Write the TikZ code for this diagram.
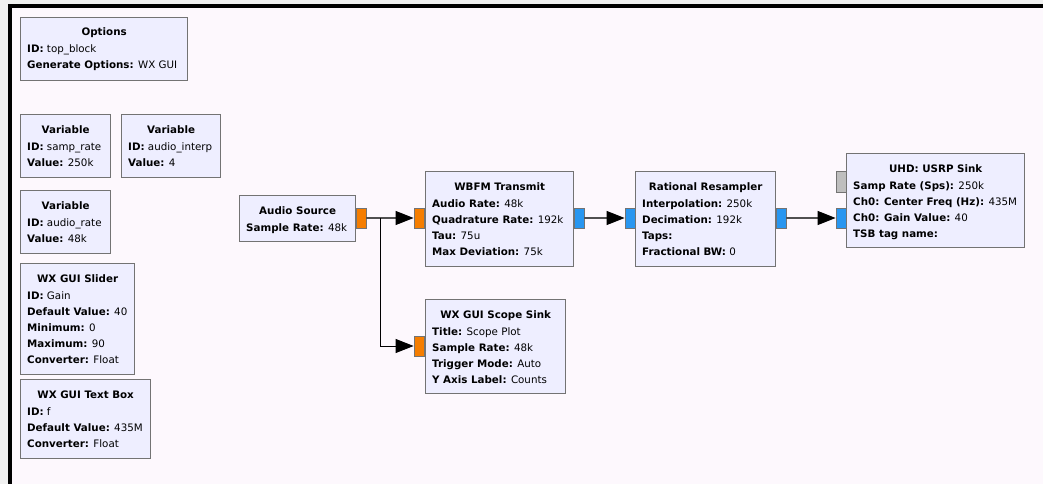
\documentclass[tikz,border=0pt]{standalone}
\usepackage{fontspec}
\setmainfont{DejaVu Sans}
\usetikzlibrary{arrows.meta,calc}
\definecolor{canvas}{RGB}{253,248,253}
\definecolor{framegray}{RGB}{240,240,240}
\definecolor{blockfill}{RGB}{238,238,255}
\definecolor{blockedge}{RGB}{115,115,115}
\definecolor{portorange}{RGB}{245,125,0}
\definecolor{portblue}{RGB}{40,150,240}
\definecolor{portgray}{RGB}{190,190,190}
\definecolor{wiregray}{RGB}{80,80,80}
\tikzset{
  block/.style={
    rectangle,
    draw=blockedge,
    fill=blockfill,
    line width=1.3pt,
    inner sep=0pt,
    anchor=north west
  },
  title/.style={
    anchor=base,
    inner sep=0pt,
    font=\fontsize{10.3pt}{16pt}\selectfont\bfseries
  },
  params/.style={
    anchor=base west,
    inner sep=0pt,
    font=\fontsize{10.3pt}{16pt}\selectfont
  },
  port/.style={
    rectangle,
    draw=blockedge,
    line width=0.8pt,
    minimum width=10pt,
    minimum height=20pt,
    inner sep=0pt
  },
  port-orange/.style={port, fill=portorange},
  port-blue/.style={port, fill=portblue},
  port-gray/.style={port, fill=portgray},
  wire/.style={
    draw=wiregray,
    line width=1.1pt,
    -{Triangle[length=18pt,width=14pt,fill=black,color=black]}
  }
}
% block: name, x, y, width, height, title, parameter lines
\newcommand{\gblock}[7]{%
  \node[block, minimum width=#4pt, minimum height=#5pt] (#1) at (#2,#3) {};
  \node[title] (#1-title) at ($(#1.north)+(0,19)$) {#6};
  \foreach \ln [count=\i] in {#7} {
    \node[params] (#1-p\i) at ($(#1.north west)+(7,20+16*\i)$) {\ln};
  }
}
\newcommand{\kv}[2]{\textbf{#1:} #2}

\begin{document}
\begin{tikzpicture}[x=1pt,y=-1pt]
  \useasboundingbox (0,0) rectangle (1043,484);
  % canvas and frame
  \fill[framegray] (0,0) rectangle (1043,484);
  \fill[canvas] (12,8) rectangle (1043,484);
  \fill[black] (8,4) rectangle (1043,8);
  \fill[black] (8,4) rectangle (12,484);

  % variables and options
  \gblock{options}{20}{17}{167}{63}{Options}
    {\kv{ID}{top\_block}, \kv{Generate Options}{WX GUI}}
  \gblock{samprate}{20}{114}{90}{63}{Variable}
    {\kv{ID}{samp\_rate}, \kv{Value}{250k}}
  \gblock{audiointerp}{121}{114}{99}{63}{Variable}
    {\kv{ID}{audio\_interp}, \kv{Value}{4}}
  \gblock{audiorate}{20}{190}{90}{63}{Variable}
    {\kv{ID}{audio\_rate}, \kv{Value}{48k}}
  \gblock{slider}{20}{263}{114}{111}{WX GUI Slider}
    {\kv{ID}{Gain}, \kv{Default Value}{40}, \kv{Minimum}{0},
     \kv{Maximum}{90}, \kv{Converter}{Float}}
  \gblock{textbox}{20}{379}{130}{79}{WX GUI Text Box}
    {\kv{ID}{f}, \kv{Default Value}{435M}, \kv{Converter}{Float}}

  % signal chain
  \gblock{asrc}{239}{195}{116}{46}{Audio Source}
    {\kv{Sample Rate}{48k}}
  \gblock{wbfm}{425}{171}{148}{95}{WBFM Transmit}
    {\kv{Audio Rate}{48k}, \kv{Quadrature Rate}{192k},
     \kv{Tau}{75u}, \kv{Max Deviation}{75k}}
  \gblock{resamp}{635}{171}{140}{95}{Rational Resampler}
    {\kv{Interpolation}{250k}, \kv{Decimation}{192k},
     \textbf{Taps:}, \kv{Fractional BW}{0}}
  \gblock{usrp}{846}{153}{178}{94}{UHD: USRP Sink}
    {\kv{Samp Rate (Sps)}{250k}, \kv{Ch0: Center Freq (Hz)}{435M},
     \kv{Ch0: Gain Value}{40}, \textbf{TSB tag name:}}
  \gblock{scope}{425}{299}{140}{94}{WX GUI Scope Sink}
    {\kv{Title}{Scope Plot}, \kv{Sample Rate}{48k},
     \kv{Trigger Mode}{Auto}, \kv{Y Axis Label}{Counts}}

  % ports
  \node[port-orange] (asrc-out) at (361,218) {};
  \node[port-orange] (wbfm-in) at (419,218) {};
  \node[port-blue] (wbfm-out) at (579,218) {};
  \node[port-blue] (resamp-in) at (630,218) {};
  \node[port-blue] (resamp-out) at (781,218) {};
  \node[port-blue] (usrp-in) at (841,218) {};
  \node[port-gray, minimum height=21pt] (usrp-msg) at (841,181.5) {};
  \node[port-orange] (scope-in) at (419,346) {};

  % connections
  \coordinate (split) at (380,218);
  \draw[wire] (asrc-out.east) -- (wbfm-in.west);
  \draw[wire, draw=black, line width=0.9pt] (split) |- (scope-in.west);
  \draw[wire] (wbfm-out.east) -- (resamp-in.west);
  \draw[wire] (resamp-out.east) -- (usrp-in.west);
\end{tikzpicture}
\end{document}
